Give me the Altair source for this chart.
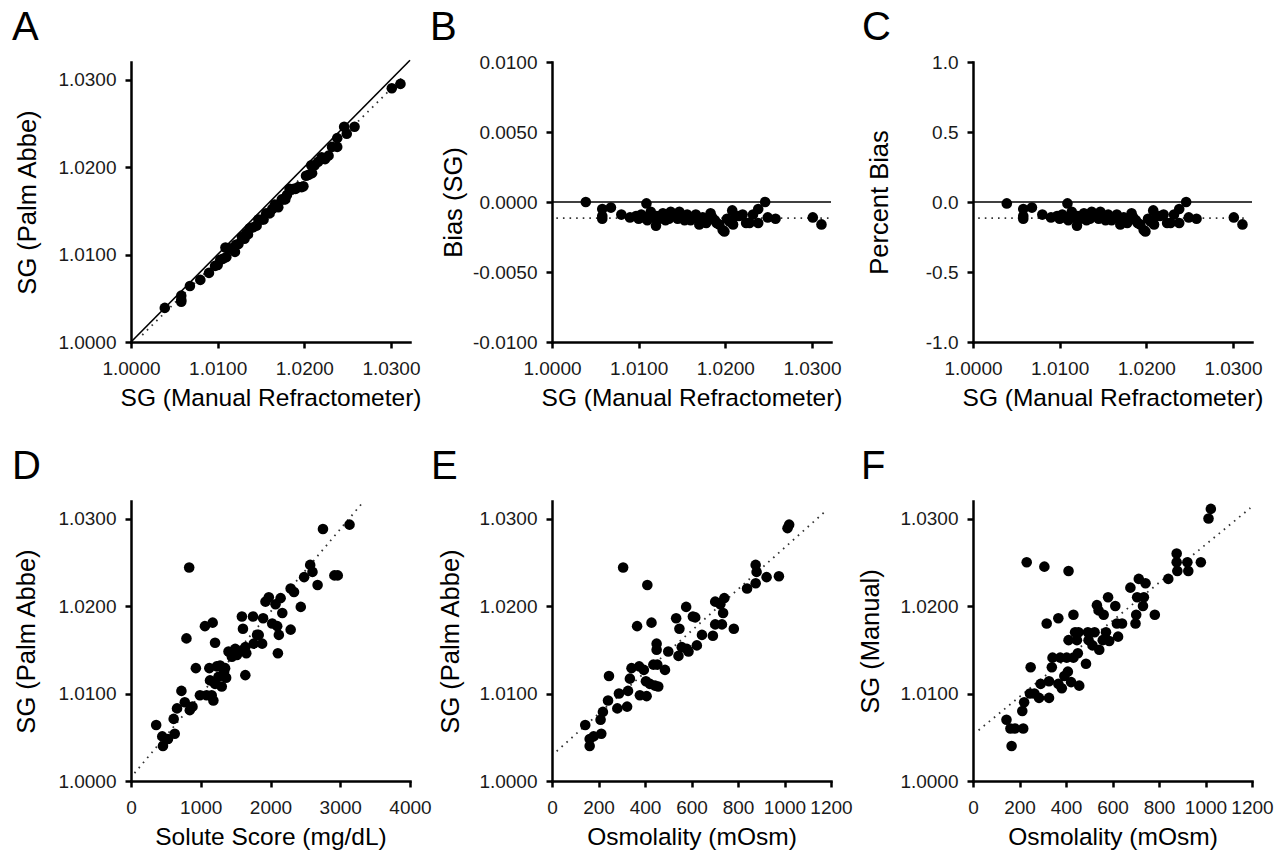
import altair as alt
import pandas as pd

FONT = "Liberation Sans"

# ---------------- Panel A: Palm Abbe vs manual refractometer ----------------
a_manual = [1.0039, 1.0058, 1.0068, 1.0058, 1.0058, 1.0080, 1.0090, 1.0097, 1.0103, 1.0109,
            1.0110, 1.0114, 1.0120, 1.0121, 1.0128, 1.0131, 1.0137, 1.0141, 1.0147, 1.0151,
            1.0156, 1.0160, 1.0166, 1.0170, 1.0174, 1.0178, 1.0183, 1.0185, 1.0190, 1.0197,
            1.0199, 1.0202, 1.0208, 1.0209, 1.0212, 1.0220, 1.0228, 1.0232, 1.0238, 1.0238,
            1.0246, 1.0249, 1.0258, 1.0301, 1.0311, 1.0106, 1.0124, 1.0133, 1.0145, 1.0153,
            1.0163, 1.0168, 1.0176, 1.0180, 1.0188, 1.0193, 1.0205, 1.0216, 1.0224, 1.0100,
            1.0117, 1.0135]
a_palm = [1.0039, 1.0053, 1.0064, 1.0048, 1.0046, 1.0071, 1.0079, 1.0087, 1.0094, 1.0108,
          1.0097, 1.0107, 1.0103, 1.0111, 1.0120, 1.0118, 1.0130, 1.0131, 1.0140, 1.0140,
          1.0147, 1.0147, 1.0157, 1.0154, 1.0163, 1.0163, 1.0175, 1.0174, 1.0175, 1.0177,
          1.0178, 1.0190, 1.0202, 1.0193, 1.0202, 1.0211, 1.0213, 1.0223, 1.0233, 1.0223,
          1.0246, 1.0238, 1.0246, 1.0290, 1.0295, 1.0095, 1.0112, 1.0124, 1.0133, 1.0140,
          1.0152, 1.0156, 1.0163, 1.0168, 1.0175, 1.0177, 1.0191, 1.0206, 1.0209, 1.0088,
          1.0106, 1.0123]
a_identity_x = [1.0000, 1.0322]
a_identity_y = [1.0000, 1.0322]
a_fit_x = [1.0013, 1.0312]
a_fit_y = [1.0008, 1.0301]

# ---------------- Panel B: bias (SG) ----------------
b_manual = list(a_manual)
b_bias = [0.0000, -0.0005, -0.0004, -0.0010, -0.0012, -0.0009, -0.0011, -0.0010, -0.0009, -0.0001,
          -0.0013, -0.0007, -0.0017, -0.0010, -0.0008, -0.0013, -0.0007, -0.0010, -0.0007, -0.0011,
          -0.0009, -0.0013, -0.0009, -0.0016, -0.0011, -0.0015, -0.0008, -0.0011, -0.0015, -0.0020,
          -0.0021, -0.0012, -0.0006, -0.0016, -0.0010, -0.0009, -0.0015, -0.0009, -0.0005, -0.0015,
          0.0000, -0.0011, -0.0012, -0.0011, -0.0016, -0.0011, -0.0012, -0.0009, -0.0012, -0.0013,
          -0.0011, -0.0012, -0.0013, -0.0012, -0.0013, -0.0016, -0.0014, -0.0010, -0.0015, -0.0012,
          -0.0011, -0.0012]
b_zero_x = [1.0000, 1.0322]
b_zero_y = [0.0, 0.0]
b_mean_x = [1.0005, 1.0320]
b_mean_y = [-0.00115, -0.00115]

# ---------------- Panel C: percent bias ----------------
c_manual = list(a_manual)
c_pct = [-0.01, -0.05, -0.04, -0.10, -0.12, -0.09, -0.11, -0.10, -0.09, -0.01,
         -0.13, -0.07, -0.17, -0.10, -0.08, -0.13, -0.07, -0.10, -0.07, -0.11,
         -0.09, -0.13, -0.09, -0.16, -0.11, -0.15, -0.08, -0.11, -0.15, -0.20,
         -0.21, -0.12, -0.06, -0.16, -0.10, -0.09, -0.15, -0.09, -0.05, -0.15,
         0.00, -0.11, -0.12, -0.11, -0.16, -0.11, -0.12, -0.09, -0.12, -0.13,
         -0.11, -0.12, -0.13, -0.12, -0.13, -0.16, -0.14, -0.10, -0.15, -0.12,
         -0.11, -0.12]
c_zero_x = [1.0000, 1.0322]
c_zero_y = [0.0, 0.0]
c_mean_x = [1.0006, 1.0315]
c_mean_y = [-0.115, -0.115]

# ---------------- Panel D: Palm Abbe vs solute score ----------------
d_solute = [361, 448, 458, 530, 627, 612, 660, 723, 771, 843,
            882, 795, 834, 930, 988, 1060, 1084, 1133, 1157, 1181,
            1123, 1171, 1205, 1229, 1253, 1301, 1349, 1364, 1398, 1446,
            1494, 1590, 1590, 1605, 1639, 1653, 1639, 1749, 1759, 1807,
            1831, 1880, 1894, 1928, 1976, 2024, 2072, 2120, 2106, 2096,
            2145, 2169, 2289, 2289, 2337, 2434, 2482, 2569, 2602, 2675,
            2752, 2916, 2964, 3133, 1277, 1335, 1205, 1518]
d_palm = [1.0064, 1.0051, 1.0040, 1.0048, 1.0054, 1.0071, 1.0083, 1.0103, 1.0090, 1.0081,
          1.0085, 1.0163, 1.0244, 1.0129, 1.0098, 1.0177, 1.0098, 1.0115, 1.0098, 1.0092,
          1.0129, 1.0181, 1.0158, 1.0131, 1.0119, 1.0108, 1.0129, 1.0118, 1.0148, 1.0142,
          1.0151, 1.0149, 1.0188, 1.0174, 1.0121, 1.0146, 1.0153, 1.0188, 1.0157, 1.0167,
          1.0167, 1.0157, 1.0186, 1.0205, 1.0210, 1.0180, 1.0202, 1.0167, 1.0146, 1.0177,
          1.0209, 1.0192, 1.0173, 1.0220, 1.0216, 1.0199, 1.0233, 1.0247, 1.0239, 1.0224,
          1.0288, 1.0235, 1.0235, 1.0293, 1.0132, 1.0125, 1.0111, 1.0144]
d_fit_x = [50, 3340]
d_fit_y = [1.0009, 1.0320]

# ---------------- Panel E: Palm Abbe vs osmolality ----------------
e_osm = [143, 162, 162, 179, 212, 209, 219, 241, 245, 281,
         288, 323, 327, 306, 335, 342, 366, 375, 378, 395,
         404, 407, 410, 421, 428, 436, 443, 450, 450, 453,
         457, 486, 500, 534, 544, 548, 558, 577, 580, 587,
         606, 616, 623, 645, 692, 702, 702, 724, 731, 736,
         741, 782, 839, 876, 876, 880, 923, 976, 1013, 1020]
e_palm = [1.0064, 1.0048, 1.0040, 1.0051, 1.0054, 1.0070, 1.0079, 1.0092, 1.0120, 1.0083,
          1.0100, 1.0085, 1.0103, 1.0244, 1.0117, 1.0129, 1.0177, 1.0131, 1.0098, 1.0127,
          1.0114, 1.0097, 1.0224, 1.0111, 1.0181, 1.0133, 1.0109, 1.0157, 1.0150, 1.0133,
          1.0108, 1.0127, 1.0148, 1.0186, 1.0143, 1.0174, 1.0153, 1.0199, 1.0151, 1.0148,
          1.0188, 1.0187, 1.0155, 1.0167, 1.0166, 1.0205, 1.0179, 1.0202, 1.0179, 1.0192,
          1.0209, 1.0174, 1.0220, 1.0226, 1.0247, 1.0239, 1.0233, 1.0234, 1.0289, 1.0293]
e_fit_x = [20, 1183]
e_fit_y = [1.0034, 1.0310]

# ---------------- Panel F: manual SG vs osmolality ----------------
f_osm = [144, 161, 180, 216, 166, 212, 220, 248, 245, 264,
         284, 291, 231, 307, 327, 327, 317, 339, 342, 367,
         367, 375, 382, 393, 403, 408, 411, 411, 422, 432,
         432, 439, 447, 451, 457, 486, 454, 494, 497, 514,
         523, 533, 540, 543, 558, 562, 572, 581, 586, 612,
         619, 624, 641, 677, 699, 702, 706, 713, 735, 731,
         742, 782, 840, 876, 876, 879, 922, 926, 980, 1013,
         1023]
f_manual = [1.0070, 1.0060, 1.0060, 1.0060, 1.0040, 1.0080, 1.0090, 1.0130, 1.0100, 1.0100,
            1.0095, 1.0111, 1.0250, 1.0245, 1.0095, 1.0114, 1.0180, 1.0130, 1.0141, 1.0186,
            1.0111, 1.0141, 1.0106, 1.0120, 1.0141, 1.0125, 1.0240, 1.0161, 1.0113, 1.0141,
            1.0190, 1.0170, 1.0161, 1.0146, 1.0109, 1.0134, 1.0170, 1.0170, 1.0161, 1.0155,
            1.0170, 1.0201, 1.0195, 1.0150, 1.0161, 1.0190, 1.0170, 1.0210, 1.0160, 1.0200,
            1.0180, 1.0165, 1.0180, 1.0221, 1.0180, 1.0190, 1.0210, 1.0231, 1.0210, 1.0200,
            1.0226, 1.0190, 1.0231, 1.0260, 1.0250, 1.0240, 1.0250, 1.0240, 1.0250, 1.0300,
            1.0311]
f_fit_x = [24, 1193]
f_fit_y = [1.0058, 1.0312]

sg_ticks = [1.0, 1.01, 1.02, 1.03]
SIGNED4 = "(datum.value < -1e-9 ? '-' : '') + format(abs(datum.value), '.4f')"
SIGNED1 = "(datum.value < -1e-9 ? '-' : '') + format(abs(datum.value), '.1f')"


def panel(letter, letter_dx, xs, ys, xdom, ydom, xticks, yticks, xtitle, ytitle,
          ytitle_pad, lines, width, height, xfmt=None, yfmt=None, ylabel_expr=None):
    xa = dict(values=xticks, title=xtitle, labelFlush=False, labelOverlap=False)
    if xfmt:
        xa["format"] = xfmt
    ya = dict(values=yticks, title=ytitle, titlePadding=ytitle_pad,
              labelFlush=False, labelOverlap=False)
    if yfmt:
        ya["format"] = yfmt
    if ylabel_expr:
        ya["labelExpr"] = ylabel_expr
    xenc = alt.X("x:Q", scale=alt.Scale(domain=xdom, nice=False, zero=False), axis=alt.Axis(**xa))
    yenc = alt.Y("y:Q", scale=alt.Scale(domain=ydom, nice=False, zero=False), axis=alt.Axis(**ya))

    layers = []
    for lx, ly, dotted in lines:
        df = pd.DataFrame({"x": lx, "y": ly})
        if dotted:
            mk = alt.Chart(df).mark_line(color="#333333", strokeWidth=1.8, strokeDash=[1.6, 5.0])
        else:
            mk = alt.Chart(df).mark_line(color="black", strokeWidth=1.6)
        layers.append(mk.encode(x=xenc, y=yenc))
    pts = alt.Chart(pd.DataFrame({"x": xs, "y": ys})).mark_circle(
        size=112, color="black", opacity=1).encode(x=xenc, y=yenc)
    layers.append(pts)
    lab = alt.Chart(pd.DataFrame({"t": [letter]})).mark_text(
        font=FONT, fontSize=40, align="left", baseline="alphabetic", color="black"
    ).encode(x=alt.value(letter_dx), y=alt.value(-22), text="t:N")
    layers.append(lab)
    return alt.layer(*layers).properties(width=width, height=height)


A = panel("A", -119, a_manual, a_palm, [1.0, 1.0322], [1.0, 1.032], sg_ticks, sg_ticks,
          "SG (Manual Refractometer)", "SG (Palm Abbe)", 18,
          [(a_identity_x, a_identity_y, False), (a_fit_x, a_fit_y, True)], 279, 280,
          xfmt=".4f", yfmt=".4f")
B = panel("B", -122, b_manual, b_bias, [1.0, 1.0322], [-0.01, 0.01], sg_ticks,
          [-0.01, -0.005, 0.0, 0.005, 0.01],
          "SG (Manual Refractometer)", "Bias (SG)", 13,
          [(b_zero_x, b_zero_y, False), (b_mean_x, b_mean_y, True)], 279, 280,
          xfmt=".4f", ylabel_expr=SIGNED4)
C = panel("C", -111, c_manual, c_pct, [1.0, 1.0322], [-1.0, 1.0], sg_ticks,
          [-1.0, -0.5, 0.0, 0.5, 1.0],
          "SG (Manual Refractometer)", "Percent Bias", 8,
          [(c_zero_x, c_zero_y, False), (c_mean_x, c_mean_y, True)], 279, 280,
          xfmt=".4f", ylabel_expr=SIGNED1)
D = panel("D", -119, d_solute, d_palm, [0, 4000], [1.0, 1.032], [0, 1000, 2000, 3000, 4000],
          sg_ticks, "Solute Score (mg/dL)", "SG (Palm Abbe)", 19,
          [(d_fit_x, d_fit_y, True)], 279, 280, xfmt="d", yfmt=".4f")
E = panel("E", -121, e_osm, e_palm, [0, 1200], [1.0, 1.032], [0, 200, 400, 600, 800, 1000, 1200],
          sg_ticks, "Osmolality (mOsm)", "SG (Palm Abbe)", 16,
          [(e_fit_x, e_fit_y, True)], 279, 280, xfmt="d", yfmt=".4f")
F = panel("F", -112, f_osm, f_manual, [0, 1200], [1.0, 1.032], [0, 200, 400, 600, 800, 1000, 1200],
          sg_ticks, "Osmolality (mOsm)", "SG (Manual)", 17,
          [(f_fit_x, f_fit_y, True)], 279, 280, xfmt="d", yfmt=".4f")

chart = alt.concat(
    A, B, C, D, E, F, columns=3, bounds="flush",
    spacing=alt.RowColnumber(row=159, column=142)
).properties(
    padding={"left": 12, "top": 8, "right": 5, "bottom": 5}
).configure_view(stroke=None).configure_axis(
    domainColor="black", domainWidth=2.5, domainCap="square",
    tickColor="black", tickWidth=2.5, tickSize=6,
    labelFont=FONT, labelFontSize=19, labelColor="#1a1a1a",
    titleFont=FONT, titleFontSize=24.5, titleFontWeight="normal", titleColor="black",
    grid=False
).configure_axisX(labelPadding=11, titlePadding=8).configure_axisY(
    labelPadding=9, minExtent=73, maxExtent=73, titleFontSize=25.5
)

chart.save("out.html", embed_options={"renderer": "svg", "actions": False})
